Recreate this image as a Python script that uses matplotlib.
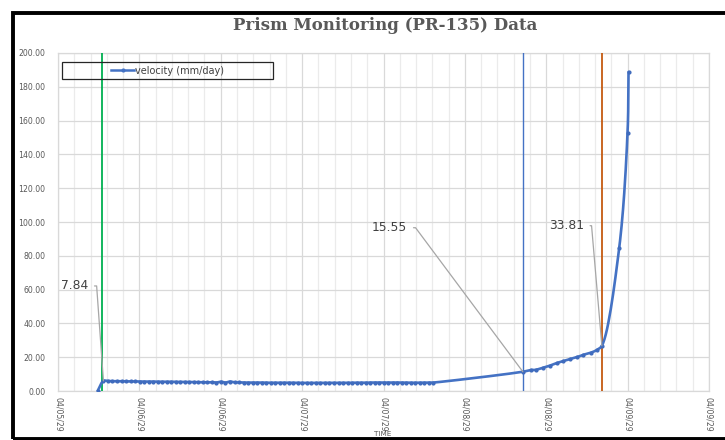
import numpy as np
import pandas as pd
import matplotlib
matplotlib.use("Agg")
import matplotlib.pyplot as plt
import matplotlib.dates as mdates
from matplotlib.ticker import MultipleLocator, FormatStrFormatter
from matplotlib.patches import Rectangle
from matplotlib.lines import Line2D

# ---------------- data ----------------
rise_times = ["2029-04-05 17:50"]
rise_values = [0.0]

plateau_start = "2029-04-05 18:42"
plateau_step = "40min"
plateau_values = [
    6.0, 5.9, 5.8, 5.8, 5.8, 5.7, 5.7, 5.7, 5.6, 5.6, 5.6,
    5.6, 5.5, 5.5, 5.5, 5.5, 5.4, 5.4, 5.4, 5.3, 5.3,
    5.2, 5.2, 5.1, 5.2, 5.0, 5.5, 5.0, 5.6, 5.1, 5.1,
    5.0, 5.0, 5.0, 5.0, 5.0, 4.9, 4.9, 4.9, 4.9, 4.9,
    4.9, 4.8, 4.8, 4.8, 4.8, 4.8, 4.8, 4.8, 4.8, 4.8,
    4.8, 4.8, 4.8, 4.8, 4.9, 4.9, 4.9, 4.9, 5.0, 5.0,
    5.0, 5.0, 5.0, 5.0, 5.0, 5.0, 5.0, 4.9, 4.9, 4.9, 4.9, 4.9, 5.0,
]

late_times = [
    "2029-04-08 08:33", "2029-04-08 09:43", "2029-04-08 10:25", "2029-04-08 11:32",
    "2029-04-08 12:32", "2029-04-08 13:31", "2029-04-08 14:30", "2029-04-08 15:29",
    "2029-04-08 16:33", "2029-04-08 17:27", "2029-04-08 18:32", "2029-04-08 19:25",
    "2029-04-08 20:12", "2029-04-08 22:45", "2029-04-08 23:59", "2029-04-09 00:08",
]
late_values = [
    11.4, 12.4, 12.5, 13.8, 15.0, 16.5, 17.7, 18.8,
    20.1, 21.4, 22.6, 24.2, 26.8, 84.4, 152.4, 188.8,
]

event_times = ["2029-04-05 18:29", "2029-04-08 08:33", "2029-04-08 20:12"]
event_colors = ["#00B050", "#4472C4", "#C55A11"]
event_widths = [1.3, 1.0, 1.3]

label_texts = ["7.84", "15.55", "33.81"]

series_name = "velocity (mm/day)"
title_text = "Prism Monitoring (PR-135) Data"
x_start, x_end = "2029-04-05 12:00", "2029-04-09 12:00"

# ---------------- build series ----------------
plateau_times = pd.date_range(plateau_start, periods=len(plateau_values), freq=plateau_step)
times = list(pd.to_datetime(rise_times)) + list(plateau_times) + list(pd.to_datetime(late_times))
values = rise_values + plateau_values + late_values
xnum = mdates.date2num(pd.DatetimeIndex(times).to_pydatetime())
yv = np.array(values, dtype=float)

# smooth line like Excel (centripetal Catmull-Rom in pixel-like space)
px_per_day = 162.8
px_per_unit = 1.69
P = np.column_stack([xnum * px_per_day, yv * px_per_unit])

def catmull_rom(P, n=16, alpha=0.5):
    pts = [P[0]]
    ext = np.vstack([2 * P[0] - P[1], P, 2 * P[-1] - P[-2]])
    for i in range(1, len(ext) - 2):
        p0, p1, p2, p3 = ext[i - 1], ext[i], ext[i + 1], ext[i + 2]
        t0 = 0.0
        t1 = t0 + max(np.linalg.norm(p1 - p0) ** alpha, 1e-6)
        t2 = t1 + max(np.linalg.norm(p2 - p1) ** alpha, 1e-6)
        t3 = t2 + max(np.linalg.norm(p3 - p2) ** alpha, 1e-6)
        ts = np.linspace(t1, t2, n)[1:]
        for t in ts:
            a1 = (t1 - t) / (t1 - t0) * p0 + (t - t0) / (t1 - t0) * p1
            a2 = (t2 - t) / (t2 - t1) * p1 + (t - t1) / (t2 - t1) * p2
            a3 = (t3 - t) / (t3 - t2) * p2 + (t - t2) / (t3 - t2) * p3
            b1 = (t2 - t) / (t2 - t0) * a1 + (t - t0) / (t2 - t0) * a2
            b2 = (t3 - t) / (t3 - t1) * a2 + (t - t1) / (t3 - t1) * a3
            c = (t2 - t) / (t2 - t1) * b1 + (t - t1) / (t2 - t1) * b2
            pts.append(c)
    return np.array(pts)

S = catmull_rom(P)
sx = S[:, 0] / px_per_day
sy = S[:, 1] / px_per_unit

# ---------------- figure ----------------
W, H = 725, 440
fig = plt.figure(figsize=(W / 100, H / 100), dpi=100)
fig.patch.set_facecolor("white")
ax = fig.add_axes([58 / W, 49 / H, 651 / W, 338 / H])

line_color = "#4472C4"
ax.plot(sx, sy, color=line_color, lw=1.9, solid_capstyle="round", zorder=4)
ax.plot(xnum, yv, linestyle="none", marker="o", ms=2.0, color="#3f6bbd", zorder=5)

for t, c, w in zip(event_times, event_colors, event_widths):
    ax.axvline(mdates.date2num(pd.Timestamp(t).to_pydatetime()), color=c, lw=w, zorder=3)

x0 = mdates.date2num(pd.Timestamp(x_start).to_pydatetime())
x1 = mdates.date2num(pd.Timestamp(x_end).to_pydatetime())
ax.set_xlim(x0, x1)
ax.set_ylim(0, 200)

ax.xaxis.set_major_locator(MultipleLocator(0.5))
ax.xaxis.set_minor_locator(MultipleLocator(0.1))
ax.xaxis.set_major_formatter(mdates.DateFormatter("%m/%d/%y"))
ax.yaxis.set_major_locator(MultipleLocator(20))
ax.yaxis.set_major_formatter(FormatStrFormatter("%.2f"))

ax.grid(which="major", color="#d9d9d9", lw=0.9, zorder=0)
ax.grid(which="minor", axis="x", color="#ebebeb", lw=0.9, zorder=0)
ax.set_axisbelow(True)
for s in ax.spines.values():
    s.set_color("#d9d9d9")
    s.set_linewidth(0.9)

ax.tick_params(which="both", length=0)
ax.tick_params(axis="y", labelsize=5.6, labelcolor="#595959", pad=9)
ax.tick_params(axis="x", labelsize=5.6, labelcolor="#595959", pad=4)
for lab in ax.get_xticklabels():
    lab.set_rotation(270)
    lab.set_ha("center")
    lab.set_va("top")

# legend box
bx0, by0, bw, bh = 62, 440 - 79, 211, 17
fig.add_artist(Rectangle((bx0 / W, by0 / H), bw / W, bh / H, transform=fig.transFigure,
                         fill=False, edgecolor="#262626", lw=0.9, zorder=10))
handle = Line2D([], [], color=line_color, lw=1.8, marker="o", ms=2.0)
leg = ax.legend([handle], [series_name], loc="center",
                bbox_to_anchor=(bx0 / W, by0 / H, bw / W, bh / H),
                bbox_transform=fig.transFigure, frameon=False,
                fontsize=7, handlelength=2.4, handletextpad=0.1,
                borderpad=0, labelcolor="#404040")

# data labels with leader lines
n_rise = len(rise_values)
n_plat = len(plateau_values)
anchor_idx = [n_rise, n_rise + n_plat, n_rise + n_plat + 12]
text_offsets = [(-15.2, 94.9), (-115.6, 144.0), (-18.0, 120.0)]
stubs = [8.4, 8.3, 7.7]
for txt, idx, (dx, dy), stub in zip(label_texts, anchor_idx, text_offsets, stubs):
    angB = np.degrees(np.arctan2(dy, dx + stub))
    ax.annotate(txt, xy=(xnum[idx], yv[idx]), xytext=(dx, dy), textcoords="offset pixels",
                ha="right", va="center", fontsize=8.8, color="#404040", zorder=8,
                arrowprops=dict(arrowstyle="-", color="#a6a6a6", lw=0.9,
                                shrinkA=2.5, shrinkB=0, relpos=(1, 0.5),
                                connectionstyle=f"angle,angleA=0,angleB={angB},rad=0"))

# title and axis title
fig.text(385 / W, 1 - 25 / H, title_text, ha="center", va="center",
         fontsize=12, fontweight="bold", family="DejaVu Serif", color="#595959")
fig.text(383 / W, 1 - 434 / H, "TIME", ha="center", va="center",
         fontsize=5.2, color="#595959")

# outer black border (chart area frame)
fig.add_artist(Rectangle((13 / W, 1.5 / H), 1.2, (440 - 13.5 - 1.5) / H,
                         transform=fig.transFigure, fill=False,
                         edgecolor="black", lw=2.8, zorder=20, clip_on=False))

fig.savefig("out.png", dpi=100, facecolor="white")
